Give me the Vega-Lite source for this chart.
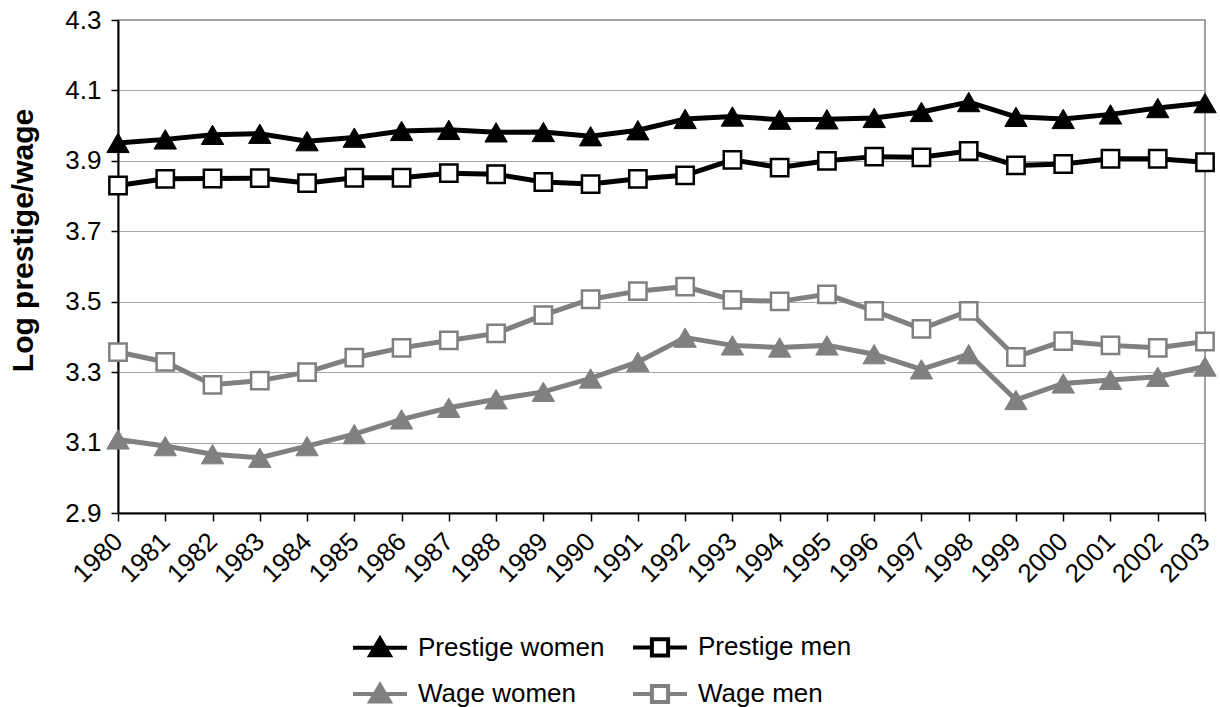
{
  "$schema": "https://vega.github.io/schema/vega-lite/v6.json",
  "width": 1087,
  "height": 493,
  "autosize": {"type": "none"},
  "padding": {"left": 118, "top": 20, "right": 15, "bottom": 194},
  "background": "white",
  "config": {
    "view": {"stroke": "#808080", "strokeWidth": 1.5},
    "font": "Liberation Sans"
  },
  "data": {
    "values": [
      {"year": "1980", "series": "Prestige women", "value": 3.951},
      {"year": "1981", "series": "Prestige women", "value": 3.961},
      {"year": "1982", "series": "Prestige women", "value": 3.974},
      {"year": "1983", "series": "Prestige women", "value": 3.977},
      {"year": "1984", "series": "Prestige women", "value": 3.956},
      {"year": "1985", "series": "Prestige women", "value": 3.966},
      {"year": "1986", "series": "Prestige women", "value": 3.985},
      {"year": "1987", "series": "Prestige women", "value": 3.988},
      {"year": "1988", "series": "Prestige women", "value": 3.981},
      {"year": "1989", "series": "Prestige women", "value": 3.982},
      {"year": "1990", "series": "Prestige women", "value": 3.970},
      {"year": "1991", "series": "Prestige women", "value": 3.987},
      {"year": "1992", "series": "Prestige women", "value": 4.019},
      {"year": "1993", "series": "Prestige women", "value": 4.026},
      {"year": "1994", "series": "Prestige women", "value": 4.017},
      {"year": "1995", "series": "Prestige women", "value": 4.018},
      {"year": "1996", "series": "Prestige women", "value": 4.022},
      {"year": "1997", "series": "Prestige women", "value": 4.039},
      {"year": "1998", "series": "Prestige women", "value": 4.067},
      {"year": "1999", "series": "Prestige women", "value": 4.025},
      {"year": "2000", "series": "Prestige women", "value": 4.019},
      {"year": "2001", "series": "Prestige women", "value": 4.032},
      {"year": "2002", "series": "Prestige women", "value": 4.050},
      {"year": "2003", "series": "Prestige women", "value": 4.064},
      {"year": "1980", "series": "Prestige men", "value": 3.830},
      {"year": "1981", "series": "Prestige men", "value": 3.849},
      {"year": "1982", "series": "Prestige men", "value": 3.850},
      {"year": "1983", "series": "Prestige men", "value": 3.851},
      {"year": "1984", "series": "Prestige men", "value": 3.837},
      {"year": "1985", "series": "Prestige men", "value": 3.852},
      {"year": "1986", "series": "Prestige men", "value": 3.852},
      {"year": "1987", "series": "Prestige men", "value": 3.865},
      {"year": "1988", "series": "Prestige men", "value": 3.862},
      {"year": "1989", "series": "Prestige men", "value": 3.840},
      {"year": "1990", "series": "Prestige men", "value": 3.834},
      {"year": "1991", "series": "Prestige men", "value": 3.849},
      {"year": "1992", "series": "Prestige men", "value": 3.859},
      {"year": "1993", "series": "Prestige men", "value": 3.903},
      {"year": "1994", "series": "Prestige men", "value": 3.881},
      {"year": "1995", "series": "Prestige men", "value": 3.900},
      {"year": "1996", "series": "Prestige men", "value": 3.912},
      {"year": "1997", "series": "Prestige men", "value": 3.910},
      {"year": "1998", "series": "Prestige men", "value": 3.928},
      {"year": "1999", "series": "Prestige men", "value": 3.887},
      {"year": "2000", "series": "Prestige men", "value": 3.891},
      {"year": "2001", "series": "Prestige men", "value": 3.906},
      {"year": "2002", "series": "Prestige men", "value": 3.906},
      {"year": "2003", "series": "Prestige men", "value": 3.896},
      {"year": "1980", "series": "Wage women", "value": 3.109},
      {"year": "1981", "series": "Wage women", "value": 3.090},
      {"year": "1982", "series": "Wage women", "value": 3.067},
      {"year": "1983", "series": "Wage women", "value": 3.057},
      {"year": "1984", "series": "Wage women", "value": 3.090},
      {"year": "1985", "series": "Wage women", "value": 3.124},
      {"year": "1986", "series": "Wage women", "value": 3.166},
      {"year": "1987", "series": "Wage women", "value": 3.199},
      {"year": "1988", "series": "Wage women", "value": 3.223},
      {"year": "1989", "series": "Wage women", "value": 3.244},
      {"year": "1990", "series": "Wage women", "value": 3.282},
      {"year": "1991", "series": "Wage women", "value": 3.329},
      {"year": "1992", "series": "Wage women", "value": 3.398},
      {"year": "1993", "series": "Wage women", "value": 3.376},
      {"year": "1994", "series": "Wage women", "value": 3.370},
      {"year": "1995", "series": "Wage women", "value": 3.376},
      {"year": "1996", "series": "Wage women", "value": 3.351},
      {"year": "1997", "series": "Wage women", "value": 3.308},
      {"year": "1998", "series": "Wage women", "value": 3.351},
      {"year": "1999", "series": "Wage women", "value": 3.221},
      {"year": "2000", "series": "Wage women", "value": 3.268},
      {"year": "2001", "series": "Wage women", "value": 3.278},
      {"year": "2002", "series": "Wage women", "value": 3.287},
      {"year": "2003", "series": "Wage women", "value": 3.316},
      {"year": "1980", "series": "Wage men", "value": 3.357},
      {"year": "1981", "series": "Wage men", "value": 3.329},
      {"year": "1982", "series": "Wage men", "value": 3.264},
      {"year": "1983", "series": "Wage men", "value": 3.276},
      {"year": "1984", "series": "Wage men", "value": 3.300},
      {"year": "1985", "series": "Wage men", "value": 3.341},
      {"year": "1986", "series": "Wage men", "value": 3.369},
      {"year": "1987", "series": "Wage men", "value": 3.390},
      {"year": "1988", "series": "Wage men", "value": 3.410},
      {"year": "1989", "series": "Wage men", "value": 3.462},
      {"year": "1990", "series": "Wage men", "value": 3.507},
      {"year": "1991", "series": "Wage men", "value": 3.530},
      {"year": "1992", "series": "Wage men", "value": 3.543},
      {"year": "1993", "series": "Wage men", "value": 3.505},
      {"year": "1994", "series": "Wage men", "value": 3.501},
      {"year": "1995", "series": "Wage men", "value": 3.521},
      {"year": "1996", "series": "Wage men", "value": 3.474},
      {"year": "1997", "series": "Wage men", "value": 3.423},
      {"year": "1998", "series": "Wage men", "value": 3.474},
      {"year": "1999", "series": "Wage men", "value": 3.343},
      {"year": "2000", "series": "Wage men", "value": 3.388},
      {"year": "2001", "series": "Wage men", "value": 3.376},
      {"year": "2002", "series": "Wage men", "value": 3.369},
      {"year": "2003", "series": "Wage men", "value": 3.387}
    ]
  },
  "encoding": {
    "x": {
      "field": "year",
      "type": "ordinal",
      "scale": {"type": "point", "padding": 0},
      "axis": {
        "title": null,
        "labelAngle": -45,
        "labelAlign": "right",
        "labelBaseline": "middle",
        "labelFontSize": 26,
        "labelFont": "Liberation Sans",
        "labelColor": "black",
        "labelPadding": 16,
        "tickSize": 8,
        "tickColor": "black",
        "tickWidth": 1.5,
        "domainColor": "black",
        "domainWidth": 2,
        "grid": false
      }
    },
    "y": {
      "field": "value",
      "type": "quantitative",
      "scale": {"domain": [2.9, 4.3], "nice": false, "zero": false},
      "axis": {
        "title": "Log prestige/wage",
        "titleFontSize": 30,
        "titleFont": "Liberation Sans",
        "titleFontWeight": "bold",
        "titleColor": "black",
        "titlePadding": 26,
        "titleY": 220,
        "values": [2.9, 3.1, 3.3, 3.5, 3.7, 3.9, 4.1, 4.3],
        "format": ".1f",
        "labelFontSize": 26,
        "labelFont": "Liberation Sans",
        "labelColor": "black",
        "labelPadding": 10,
        "tickSize": 7,
        "tickColor": "black",
        "tickWidth": 1.5,
        "domainColor": "black",
        "domainWidth": 2,
        "grid": true,
        "gridColor": "#a6a6a6",
        "gridWidth": 1
      }
    }
  },
  "layer": [
    {
      "mark": {"type": "line", "strokeWidth": 5},
      "encoding": {
        "stroke": {
          "field": "series",
          "type": "nominal",
          "scale": {
            "domain": ["Prestige women", "Prestige men", "Wage women", "Wage men"],
            "range": ["#000000", "#000000", "#808080", "#808080"]
          },
          "legend": {
            "title": null,
            "orient": "none",
            "direction": "horizontal",
            "legendX": 233,
            "legendY": 598,
            "columns": 2,
            "columnPadding": 20,
            "rowPadding": 1,
            "labelFontSize": 26,
            "labelFont": "Liberation Sans",
            "labelColor": "black",
            "labelOffset": 9,
            "labelLimit": 400,
            "symbolSize": 900,
            "symbolStrokeWidth": 4,
            "encode": {
              "symbols": {
                "update": {
                  "shape": {"signal": "indexof(datum.value,'women')>=0 ? 'M-1,0L1,0M0,-0.33L0.36,0.28L-0.36,0.28Z' : 'M-1,0L-0.3,0M0.3,0L1,0M-0.3,-0.3L0.3,-0.3L0.3,0.3L-0.3,0.3Z'"},
                  "fill": {"signal": "datum.value=='Prestige women' ? '#000000' : datum.value=='Wage women' ? '#808080' : '#ffffff'"},
                  "strokeWidth": {"value": 4},
                  "size": {"value": 2916},
                  "opacity": {"value": 1}
                }
              }
            }
          }
        }
      }
    },
    {
      "transform": [{"filter": "indexof(datum.series,'women')>=0"}],
      "mark": {"type": "point", "shape": "triangle-up", "size": 500, "filled": true, "opacity": 1, "strokeWidth": 1},
      "encoding": {
        "stroke": {
          "field": "series",
          "type": "nominal",
          "scale": {"domain": ["Prestige women", "Prestige men", "Wage women", "Wage men"]}
        },
        "fill": {
          "field": "series",
          "type": "nominal",
          "scale": {
            "domain": ["Prestige women", "Prestige men", "Wage women", "Wage men"],
            "range": ["#000000", "#ffffff", "#808080", "#ffffff"]
          },
          "legend": null
        }
      }
    },
    {
      "transform": [{"filter": "indexof(datum.series,'women')<0"}],
      "mark": {"type": "point", "shape": "square", "size": 300, "filled": true, "opacity": 1, "strokeWidth": 2.5},
      "encoding": {
        "stroke": {
          "field": "series",
          "type": "nominal",
          "scale": {"domain": ["Prestige women", "Prestige men", "Wage women", "Wage men"]}
        },
        "fill": {
          "field": "series",
          "type": "nominal",
          "scale": {"domain": ["Prestige women", "Prestige men", "Wage women", "Wage men"]},
          "legend": null
        }
      }
    }
  ]
}
